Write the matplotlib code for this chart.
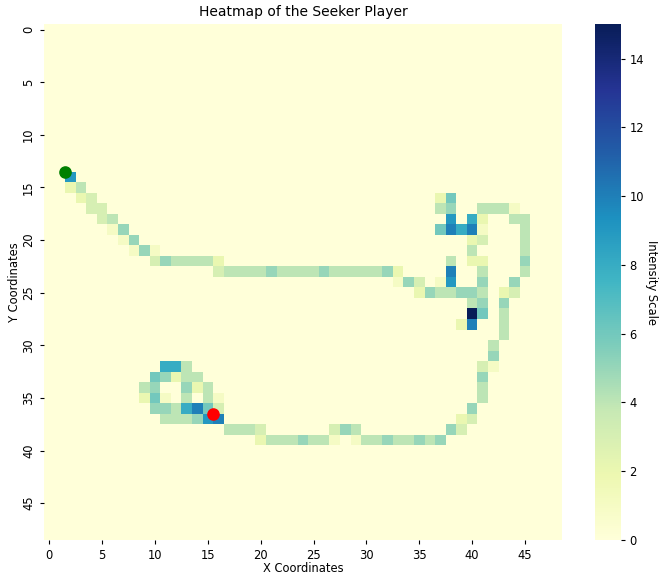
import numpy as np
import matplotlib
matplotlib.use("Agg")
import matplotlib.pyplot as plt
import seaborn as sns

GRID_SIZE = 49

# Visited cells of the seeker: row (y), column (x), visit count
cell_rows = [
    14,
    15, 15,
    16, 16, 16, 16,
    17, 17, 17, 17, 17, 17, 17, 17,
    18, 18, 18, 18, 18, 18, 18,
    19, 19, 19, 19, 19, 19, 19, 19,
    20, 20, 20, 20, 20,
    21, 21, 21, 21, 21,
    22, 22, 22, 22, 22, 22, 22, 22, 22, 22, 22,
    23, 23, 23, 23, 23, 23, 23, 23, 23, 23, 23, 23, 23, 23, 23, 23, 23, 23, 23, 23, 23,
    24, 24, 24, 24, 24, 24, 24,
    25, 25, 25, 25, 25, 25, 25, 25, 25,
    26, 26, 26,
    27, 27, 27,
    28, 28, 28,
    29, 30, 31,
    32, 32, 32, 32, 32,
    33, 33, 33, 33, 33, 33,
    34, 34, 34, 34, 34, 34,
    35, 35, 35, 35, 35, 35, 35,
    36, 36, 36, 36, 36, 36, 36, 36,
    37, 37, 37, 37, 37, 37, 37, 37,
    38, 38, 38, 38, 38, 38, 38, 38, 38,
    39, 39, 39, 39, 39, 39, 39, 39, 39, 39, 39, 39, 39, 39, 39, 39, 39,
]
cell_cols = [
    2,
    2, 3,
    3, 4, 37, 38,
    4, 5, 37, 38, 41, 42, 43, 44,
    5, 6, 38, 40, 41, 44, 45,
    6, 7, 37, 38, 39, 40, 41, 45,
    7, 8, 40, 41, 45,
    8, 9, 10, 40, 45,
    10, 11, 12, 13, 14, 15, 16, 38, 40, 41, 45,
    16, 17, 18, 19, 20, 21, 22, 23, 24, 25, 26, 27, 28, 29, 30, 31, 32, 33, 38, 41, 45,
    33, 34, 35, 37, 38, 41, 44,
    35, 36, 37, 38, 39, 40, 41, 43, 44,
    40, 41, 43,
    40, 41, 43,
    39, 40, 43,
    43, 42, 42,
    11, 12, 13, 41, 42,
    10, 11, 12, 13, 14, 41,
    9, 10, 13, 14, 15, 41,
    9, 10, 11, 13, 15, 16, 41,
    10, 11, 12, 13, 14, 15, 16, 40,
    11, 12, 13, 14, 15, 16, 39, 40,
    17, 18, 19, 20, 27, 28, 29, 38, 39,
    20, 21, 22, 23, 24, 25, 26, 27, 29, 30, 31, 32, 33, 34, 35, 36, 37,
]
cell_counts = [
    9,
    2, 4,
    2, 3, 2, 6,
    3, 3, 4, 5, 4, 4, 4, 1,
    3, 4, 9, 8, 2, 4, 4,
    1, 5, 6, 10, 8, 10, 1, 4,
    1, 5, 2, 3, 4,
    1, 5, 1, 4, 4,
    3, 5, 4, 4, 4, 4, 2, 4, 2, 2, 5,
    3, 4, 4, 4, 4, 5, 4, 4, 4, 4, 5, 4, 4, 4, 4, 4, 5, 2, 10, 4, 4,
    1, 5, 3, 1, 9, 5, 5,
    2, 5, 4, 4, 5, 5, 4, 2, 3,
    4, 5, 5,
    15, 6, 4,
    2, 10, 4,
    4, 4, 5,
    8, 8, 4, 3, 1,
    6, 5, 2, 4, 4, 5,
    4, 5, 5, 2, 4, 4,
    2, 6, 1, 4, 4, 1, 4,
    5, 5, 4, 8, 10, 6, 3, 5,
    4, 4, 4, 5, 9, 10, 2, 3,
    4, 4, 4, 3, 3, 5, 4, 5, 3,
    2, 4, 4, 4, 5, 4, 4, 1, 1, 4, 4, 5, 4, 4, 5, 4, 5,
]

start_point = (2, 14)   # green marker (x, y)
end_point = (16, 37)    # red marker (x, y)

grid = np.zeros((GRID_SIZE, GRID_SIZE))
for r, c, v in zip(cell_rows, cell_cols, cell_counts):
    grid[r, c] = v

plt.rcParams["font.size"] = 8.3
plt.rcParams["xtick.major.size"] = 3
plt.rcParams["ytick.major.size"] = 3

W, H = 660, 577
fig = plt.figure(figsize=(W / 100, H / 100), dpi=100)
ax = fig.add_axes([44 / W, (H - 540) / H, 518 / W, 515.7 / H])
cax = fig.add_axes([595 / W, (H - 540) / H, 25.5 / W, 515.7 / H])

sns.heatmap(grid, cmap="YlGnBu", vmin=0, vmax=15, ax=ax, cbar_ax=cax,
            xticklabels=5, yticklabels=5)

ax.scatter([start_point[0]], [start_point[1]], color="green", s=65, zorder=5)
ax.scatter([end_point[0]], [end_point[1]], color="red", s=65, zorder=5)

ax.set_title("Heatmap of the Seeker Player", fontsize=10)
ax.set_xlabel("X Coordinates", fontsize=8.3, labelpad=0)
ax.set_ylabel("Y Coordinates", fontsize=8.3, labelpad=1)
ax.set_xticklabels(ax.get_xticklabels(), rotation=0, fontsize=8.3)
ax.set_yticklabels(ax.get_yticklabels(), rotation=90, va="center", fontsize=8.3)

cbar = ax.collections[0].colorbar
cbar.ax.tick_params(labelsize=8.3, length=3)
cbar.set_label("Intensity Scale", rotation=270, labelpad=10, fontsize=8.3)
cbar.outline.set_visible(False)

fig.savefig("out.png", dpi=100)
